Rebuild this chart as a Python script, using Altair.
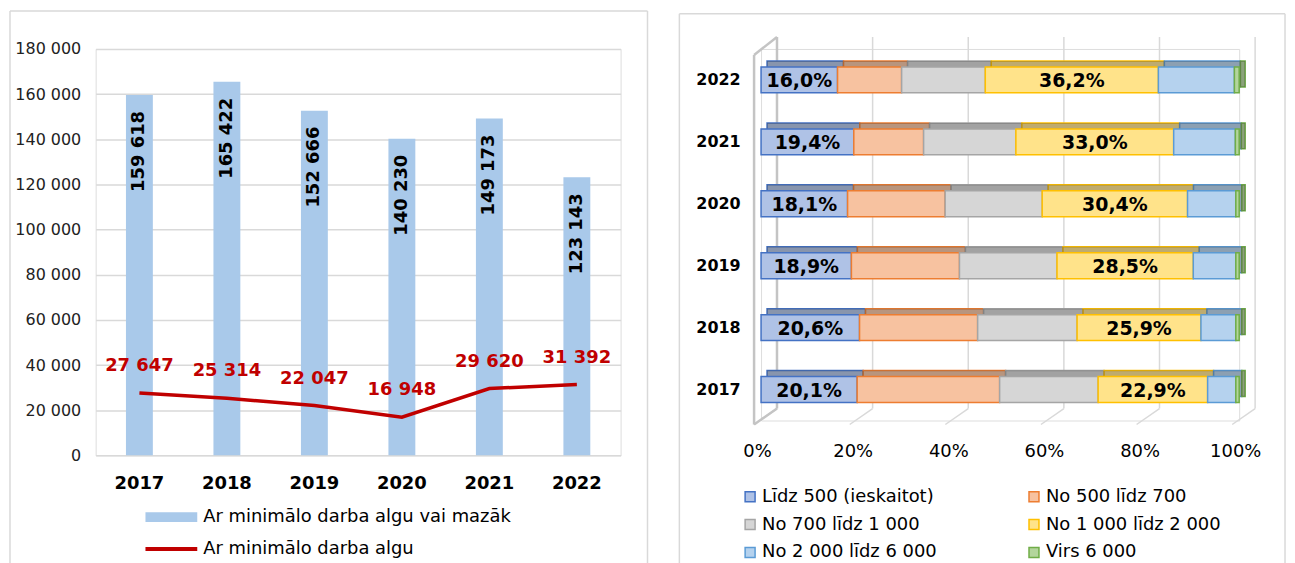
import altair as alt
import pandas as pd

FONT = "DejaVu Sans"

# ---------------- left chart data ----------------
years = ["2017", "2018", "2019", "2020", "2021", "2022"]
at_or_below_minimum = [159618, 165422, 152666, 140230, 149173, 123143]
at_minimum = [27647, 25314, 22047, 16948, 29620, 31392]
bar_series = "Ar minimālo darba algu vai mazāk"
line_series = "Ar minimālo darba algu"
y_ticks = [0, 20000, 40000, 60000, 80000, 100000, 120000, 140000, 160000, 180000]

# ---------------- right chart data ----------------
groups = ["Līdz 500 (ieskaitot)", "No 500 līdz 700", "No 700 līdz 1 000",
          "No 1 000 līdz 2 000", "No 2 000 līdz 6 000", "Virs 6 000"]
share_lidz_500 = [20.1, 20.6, 18.9, 18.1, 19.4, 16.0]
share_500_700 = [29.8, 24.7, 22.6, 20.4, 14.6, 13.4]
share_700_1000 = [20.6, 20.8, 20.4, 20.3, 19.3, 17.5]
share_1000_2000 = [22.9, 25.9, 28.5, 30.4, 33.0, 36.2]
share_2000_6000 = [5.9, 7.3, 8.9, 10.1, 12.9, 15.9]
share_virs_6000 = [0.7, 0.7, 0.7, 0.7, 0.8, 1.0]
pct_ticks = [0, 20, 40, 60, 80, 100]

solid_colors = ["#4472C4", "#ED7D31", "#A5A5A5", "#FFC000", "#5B9BD5", "#70AD47"]
light_colors = ["#AFC2E6", "#F7C2A0", "#D6D6D6", "#FFE38A", "#B5D2EE", "#B3D59C"]

FRAME = "#D9D9D9"
one = pd.DataFrame({"k": [0]})


def frame_rules(x_left_px, x_right_px, y_top_px, y_bottom_px):
    left_edge = alt.Chart(one).mark_rule(color=FRAME, strokeWidth=1.5).encode(
        x=alt.value(x_left_px), y=alt.value(y_top_px), y2=alt.value(y_bottom_px))
    right_edge = alt.Chart(one).mark_rule(color=FRAME, strokeWidth=1.5).encode(
        x=alt.value(x_right_px), y=alt.value(y_top_px), y2=alt.value(y_bottom_px))
    top_edge = alt.Chart(one).mark_rule(color=FRAME, strokeWidth=1.5).encode(
        x=alt.value(x_left_px), x2=alt.value(x_right_px), y=alt.value(y_top_px))
    return [left_edge, right_edge, top_edge]


# ================= LEFT CHART =================
left_df = pd.DataFrame({
    "year": years,
    "below": at_or_below_minimum,
    "minimum": at_minimum,
    "bar_s": [bar_series] * len(years),
    "line_s": [line_series] * len(years),
})

x_left = alt.X("year:N", sort=years,
               scale=alt.Scale(paddingInner=0, paddingOuter=0),
               axis=alt.Axis(title=None, labelFont=FONT, labelFontSize=18,
                             labelFontWeight="bold", labelColor="black",
                             labelPadding=19, domain=False, ticks=False,
                             labelAngle=0, grid=False))

y_axis_left = alt.Axis(values=y_ticks, title=None,
                       labelExpr="replace(format(datum.value, ','), ',', ' ')",
                       gridColor="#D9D9D9", gridWidth=1.5, domain=False,
                       ticks=False, labelPadding=15, labelFontSize=16,
                       labelFont=FONT, labelColor="#222222")


def y_left(field):
    return alt.Y(field, scale=alt.Scale(domain=[0, 180000], nice=False),
                 axis=y_axis_left)


base_left = alt.Chart(left_df)

bars = base_left.mark_bar(size=27).encode(
    x=x_left,
    y=y_left("below:Q"),
    fill=alt.Fill("bar_s:N", scale=alt.Scale(domain=[bar_series], range=["#A9C9EA"]),
                  legend=alt.Legend(orient="none", legendX=67, legendY=461, title=None,
                                    symbolType="M-5.2,-1H5.2V1H-5.2Z", symbolSize=100,
                                    symbolStrokeWidth=0, labelFont=FONT, labelFontSize=18,
                                    labelColor="black", labelOffset=23, labelLimit=500,
                                    padding=0)),
)

bar_labels = base_left.transform_calculate(
    txt="replace(format(datum.below, ','), ',', ' ')"
).mark_text(angle=270, align="right", baseline="middle", yOffset=16,
            font=FONT, fontSize=18, fontWeight="bold", color="black").encode(
    x=x_left, y=y_left("below:Q"), text="txt:N")

line = base_left.mark_line(strokeWidth=3.5).encode(
    x=x_left,
    y=y_left("minimum:Q"),
    stroke=alt.Stroke("line_s:N", scale=alt.Scale(domain=[line_series], range=["#C00000"]),
                      legend=alt.Legend(orient="none", legendX=67, legendY=493, title=None,
                                        symbolType="M-5.2,0H5.2", symbolSize=100,
                                        symbolStrokeWidth=4, labelFont=FONT,
                                        labelFontSize=18, labelColor="black",
                                        labelOffset=23, labelLimit=500, padding=0)),
)

line_labels = base_left.transform_calculate(
    txt="replace(format(datum.minimum, ','), ',', ' ')"
).mark_text(yOffset=-27, baseline="middle", font=FONT, fontSize=18,
            fontWeight="bold", color="#C00000").encode(
    x=x_left, y=y_left("minimum:Q"), text="txt:N")

left = alt.layer(*frame_rules(-86, 554, -38, 530), bars, bar_labels, line,
                 line_labels).properties(width=527, height=408)

# ================= RIGHT CHART =================
share_lists = [share_lidz_500, share_500_700, share_700_1000,
               share_1000_2000, share_2000_6000, share_virs_6000]
rows = []
for gi, (g, vals) in enumerate(zip(groups, share_lists)):
    for yi, yr in enumerate(years):
        rows.append({"year": yr, "group": g, "order": gi, "share": vals[yi]})
right_df = pd.DataFrame(rows)

# legend is filled column by column: order the scale domain so that the
# two-column legend reads row by row like the original
legend_order = [0, 2, 4, 1, 3, 5]
dom = [groups[i] for i in legend_order]
fill_scale = alt.Scale(domain=dom, range=[light_colors[i] for i in legend_order])
stroke_scale = alt.Scale(domain=dom, range=[solid_colors[i] for i in legend_order])

x_axis_right = alt.Axis(values=pct_ticks, title=None, grid=False, domain=False,
                        ticks=False, labelExpr="datum.value + '%'", labelOffset=-4,
                        labelFlush=False, labelPadding=22, labelFontSize=18,
                        labelFont=FONT, labelColor="black")


def x_right(field):
    return alt.X(field, scale=alt.Scale(domain=[0, 100], nice=False, zero=True),
                 axis=x_axis_right)


y_right = alt.Y("year:N", sort=years[::-1],
                scale=alt.Scale(paddingInner=0, paddingOuter=0),
                axis=alt.Axis(title=None, labelFont=FONT, labelFontSize=16,
                              labelFontWeight="bold", labelColor="black",
                              labelPadding=21, domain=False, ticks=False, grid=False))

legend_right = alt.Legend(orient="none", legendX=-20, legendY=440.5, title=None,
                          columns=2, columnPadding=88, rowPadding=10,
                          symbolType="square", symbolSize=100, symbolStrokeWidth=1.5,
                          labelFont=FONT, labelFontSize=18, labelColor="black",
                          labelOffset=3, labelLimit=500, padding=0)

base_right = alt.Chart(right_df).transform_stack(
    stack="share", groupby=["year"], as_=["x0", "x1"],
    sort=[alt.SortField("order", "ascending")])

tick_df = pd.DataFrame({"p": pct_ticks})
wall_df = pd.DataFrame({"p": [0]})
WALL = "#C4C4C4"

grid_back = alt.Chart(tick_df).mark_rule(color="#D9D9D9", strokeWidth=1.5, xOffset=16).encode(
    x=x_right("p:Q"), y=alt.value(-12), y2=alt.value(361))
grid_floor = alt.Chart(tick_df).mark_rule(color="#D9D9D9", strokeWidth=1.5,
                                          xOffset=-7, x2Offset=16).encode(
    x=x_right("p:Q"), x2="p:Q", y=alt.value(377), y2=alt.value(361))
wall_front = alt.Chart(wall_df).mark_rule(color=WALL, strokeWidth=2.5, xOffset=-7).encode(
    x=x_right("p:Q"), y=alt.value(6), y2=alt.value(377))
wall_top = alt.Chart(wall_df).mark_rule(color=WALL, strokeWidth=2.5,
                                        xOffset=-7, x2Offset=16).encode(
    x=x_right("p:Q"), x2="p:Q", y=alt.value(6), y2=alt.value(-12))
wall_back = alt.Chart(wall_df).mark_rule(color=WALL, strokeWidth=2.5, xOffset=16).encode(
    x=x_right("p:Q"), y=alt.value(-12), y2=alt.value(361))
wall_floor = alt.Chart(wall_df).mark_rule(color=WALL, strokeWidth=2.5,
                                          xOffset=-7, x2Offset=16).encode(
    x=x_right("p:Q"), x2="p:Q", y=alt.value(377), y2=alt.value(361))

back = base_right.mark_bar(size=26, xOffset=6, x2Offset=6, yOffset=-6, strokeWidth=1.5).encode(
    x=x_right("x0:Q"), x2="x1:Q", y=y_right,
    fill=alt.Fill("group:N", scale=fill_scale, legend=legend_right),
    stroke=alt.Stroke("group:N", scale=stroke_scale, legend=legend_right))
back_shade = base_right.mark_bar(size=26, xOffset=6, x2Offset=6, yOffset=-6,
                                 fill="#3A3A3A", fillOpacity=0.33, strokeWidth=0).encode(
    x=x_right("x0:Q"), x2="x1:Q", y=y_right)
front = base_right.mark_bar(size=26, strokeWidth=1.5).encode(
    x=x_right("x0:Q"), x2="x1:Q", y=y_right,
    fill=alt.Fill("group:N", scale=fill_scale, legend=legend_right),
    stroke=alt.Stroke("group:N", scale=stroke_scale, legend=legend_right))

pct_labels = base_right.transform_calculate(
    mid="(datum.x0 + datum.x1) / 2",
    lbl="replace(format(datum.share, '.1f'), '.', ',') + '%'"
).transform_filter(
    alt.FieldOneOfPredicate(field="group", oneOf=[groups[0], groups[3]])
).mark_text(font=FONT, fontSize=19, fontWeight="bold", color="black",
            baseline="middle", yOffset=1).encode(
    x=x_right("mid:Q"), y=y_right, text="lbl:N")

right = alt.layer(*frame_rules(-82, 526, -35.4, 530), grid_back, grid_floor,
                  wall_front, wall_top, wall_back, wall_floor, back, back_shade,
                  front, pct_labels).properties(width=480, height=373)

chart = alt.hconcat(left, right, spacing=28).resolve_scale(
    fill="independent", stroke="independent"
).resolve_legend(
    fill="independent", stroke="independent"
).properties(
    padding={"left": 0, "top": 0, "right": 0, "bottom": 0}
).configure_view(strokeOpacity=0).configure(font=FONT)

chart.save("out.html", embed_options={"renderer": "svg", "actions": False})
